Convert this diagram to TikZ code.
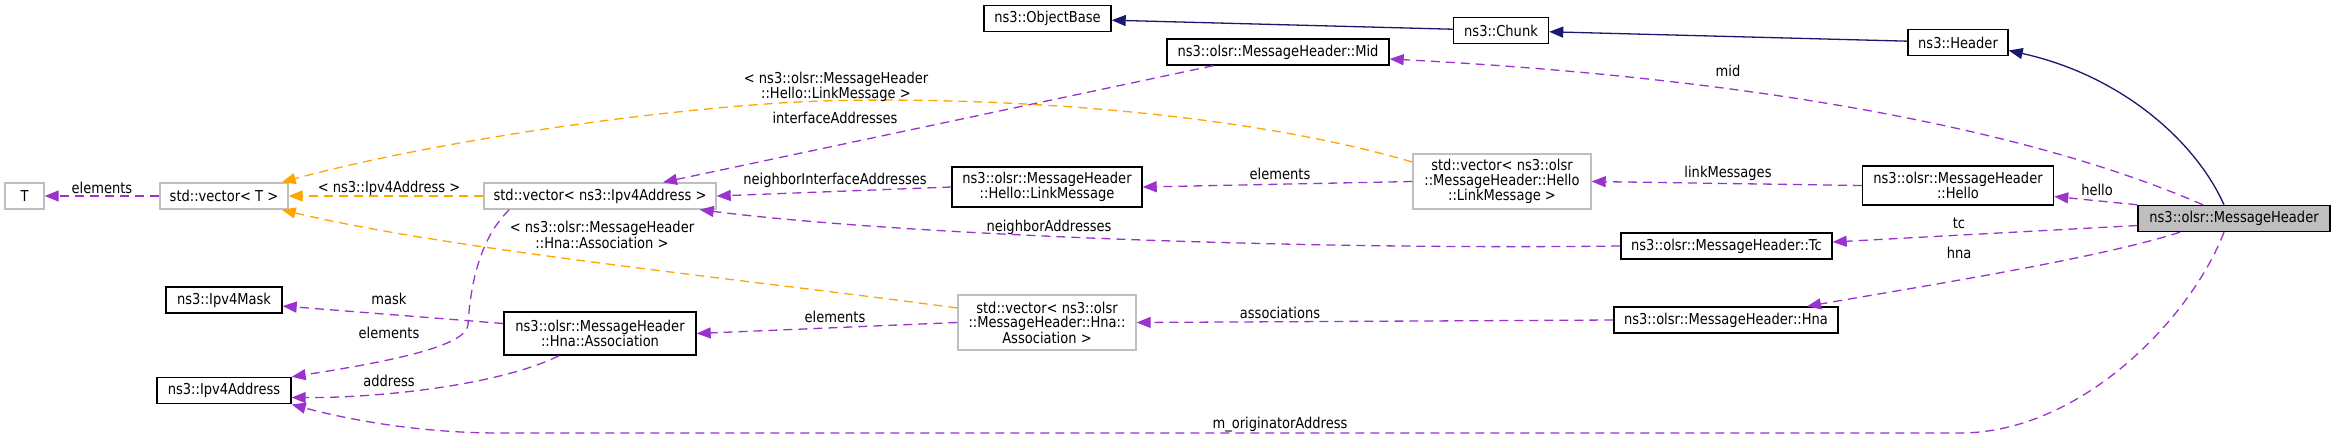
\documentclass[tikz,border=0pt]{standalone}
\usepackage{fontspec}
\setmainfont{DejaVu Sans}[FakeStretch=0.87]
\usetikzlibrary{arrows.meta,calc}
\definecolor{purp}{HTML}{9A32CD}
\definecolor{orng}{HTML}{FFA500}
\definecolor{navy}{HTML}{191970}
\definecolor{gbord}{HTML}{BFBFBF}
\begin{document}
\begin{tikzpicture}[x=1pt,y=-1pt,
 every node/.style={font=\fontsize{15}{14.5}\selectfont, inner sep=0pt, align=center},
 cls/.style={draw=black, line width=1.4pt, minimum height=26pt},
 ucls/.style={draw=gbord, line width=1.4pt, minimum height=26pt},
 use/.style={draw=purp, line width=1.3pt, dash pattern=on 9pt off 6pt, -{Triangle[length=14pt,width=11pt]}},
 tmpl/.style={draw=orng, line width=1.3pt, dash pattern=on 9pt off 6pt, -{Triangle[length=14pt,width=11pt]}},
 inh/.style={draw=navy, line width=1.3pt, -{Triangle[length=14pt,width=11pt]}}]
\path[use as bounding box, fill=white] (0,0) rectangle (2335,440);

% nodes
\node[ucls, minimum width=39pt] (T) at (24.5,196) {T};
\node[ucls, minimum width=128pt] (vecT) at (224,196) {std::vector< T >};
\node[ucls, minimum width=232pt] (vecIp) at (600,196) {std::vector< ns3::Ipv4Address >};
\node[cls, minimum width=116pt] (mask) at (224,300) {ns3::Ipv4Mask};
\node[cls, minimum width=192pt, minimum height=43pt] (assoc) at (600,333.5) {ns3::olsr::MessageHeader\\::Hna::Association};
\node[cls, minimum width=134pt] (ipaddr) at (224,390.5) {ns3::Ipv4Address};
\node[cls, minimum width=127pt] (obj) at (1047.5,18.5) {ns3::ObjectBase};
\node[cls, minimum width=95pt] (chunk) at (1501,30.5) {ns3::Chunk};
\node[cls, minimum width=222pt] (mid) at (1278,52) {ns3::olsr::MessageHeader::Mid};
\node[cls, minimum width=190pt, minimum height=40pt] (link) at (1047,187) {ns3::olsr::MessageHeader\\::Hello::LinkMessage};
\node[ucls, minimum width=178pt, minimum height=55pt] (veclink) at (1502,181.5) {std::vector< ns3::olsr\\::MessageHeader::Hello\\::LinkMessage >};
\node[ucls, minimum width=178pt, minimum height=55pt] (vechna) at (1047,322.5) {std::vector< ns3::olsr\\::MessageHeader::Hna::\\Association >};
\node[cls, minimum width=100pt] (header) at (1958,42.5) {ns3::Header};
\node[cls, minimum width=191pt, minimum height=39pt] (hello) at (1958,185.5) {ns3::olsr::MessageHeader\\::Hello};
\node[cls, minimum width=211pt] (tc) at (1726.5,246) {ns3::olsr::MessageHeader::Tc};
\node[cls, fill=gbord, minimum width=192pt] (msg) at (2234,218.5) {ns3::olsr::MessageHeader};
\node[cls, minimum width=224pt] (hna) at (1726,320) {ns3::olsr::MessageHeader::Hna};

% inheritance
\draw[inh] (chunk) -- (obj);
\draw[inh] (header) -- (chunk);
\draw[inh] ($(msg.north)+(-10,0)$) .. controls (2195,140) and (2120,75) .. ($(header.east)+(0,8)$);

% usage
\draw[use] ($(msg.north)+(-31,0)$) .. controls (2003,118) and (1700,75) .. ($(mid.east)+(0,7)$);
\draw[use] (msg.north west) -- ($(hello.east)+(0,11)$);
\draw[use] (hello.west) -- (veclink.east);
\draw[use] (veclink.west) -- (link.east);
\draw[use] (link.west) -- (vecIp.east);
\draw[use] ($(mid.south west)+(47,0)$) -- ($(vecIp.north)+(63,0)$);
\draw[use] ($(msg.west)+(0,7)$) -- ($(tc.east)+(0,-4)$);
\draw[use] (tc.west) .. controls (1300,250) and (900,235) .. ($(vecIp.south east)+(-17,0)$);
\draw[use] ($(msg.south)+(-54,0)$) .. controls (2100,258) and (1930,285) .. ($(hna.north)+(81,0)$);
\draw[use] (hna.west) -- (vechna.east);
\draw[use] (vechna.west) -- (assoc.east);
\draw[use] ($(assoc.west)+(0,-10)$) -- ($(mask.east)+(0,6)$);
\draw[use] ($(assoc.south)+(-41,0)$) .. controls (500,385) and (380,398) .. ($(ipaddr.east)+(0,7)$);
\draw[use] ($(vecIp.south west)+(26,0)$) .. controls (478,240) and (470,290) .. (468,325) .. controls (466,345) and (400,360) .. (ipaddr.north east);
\draw[use] ($(msg.south)+(-10,0)$) .. controls (2190,320) and (2080,433) .. (1960,433) -- (500,433) .. controls (420,433) and (350,420) .. ($(ipaddr.east)+(0,14)$);
\draw[use] (vecT) -- (T);

% template
\draw[tmpl] (vecIp) -- (vecT);
\draw[tmpl] ($(veclink.west)+(0,-19.5)$) .. controls (1200,100) and (900,95) .. (780,103) .. controls (600,115) and (400,150) .. ($(vecT.north east)+(-7,0)$);
\draw[tmpl] ($(vechna.west)+(0,-14.5)$) .. controls (750,280) and (450,250) .. ($(vecT.south east)+(-7,0)$);

% labels
\node (l1) at (102,188) {elements};
\node (l2) at (389,188) {< ns3::Ipv4Address >};
\node (l3) at (602,235) {< ns3::olsr::MessageHeader\\::Hna::Association >};
\node (l4) at (389,299) {mask};
\node (l5) at (389,333) {elements};
\node (l6) at (389,381) {address};
\node (l7) at (836,87) {< ns3::olsr::MessageHeader\\::Hello::LinkMessage >};
\node (l8) at (835,118) {interfaceAddresses};
\node (l9) at (835,180) {neighborInterfaceAddresses};
\node (l10) at (1280,174) {elements};
\node (l11) at (1049,227) {neighborAddresses};
\node (l12) at (835,317) {elements};
\node (l13) at (1280,313) {associations};
\node (l14) at (1280,425) {m\_originatorAddress};
\node (l15) at (1728,71) {mid};
\node (l16) at (1728,173) {linkMessages};
\node (l17) at (2097,190) {hello};
\node (l18) at (1959,223) {tc};
\node (l19) at (1959,253) {hna};
\end{tikzpicture}
\end{document}
